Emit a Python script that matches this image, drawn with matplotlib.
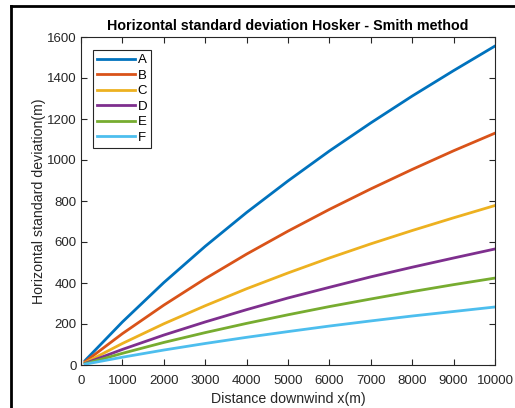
import matplotlib
matplotlib.use('Agg')
import matplotlib.pyplot as plt
from matplotlib.lines import Line2D

plt.rcParams['font.family'] = ['Liberation Sans', 'DejaVu Sans']

# distance downwind (m) and sigma_y (m)
x = [100, 1000, 2000, 3000, 4000, 5000, 6000, 7000, 8000, 9000, 10000]
sig_a = [22, 210, 402, 579, 744, 898, 1044, 1181, 1312, 1436, 1556]
sig_b = [16, 153, 292, 421, 541, 653, 759, 859, 954, 1045, 1131]
sig_c = [11, 105, 201, 289, 372, 449, 522, 591, 656, 718, 778]
sig_d = [8, 76, 146, 210, 270, 327, 379, 430, 477, 522, 566]
sig_e = [6, 57, 110, 158, 203, 245, 285, 322, 358, 392, 424]
sig_f = [4, 38, 73, 105, 135, 163, 190, 215, 239, 261, 283]
labels = ['A', 'B', 'C', 'D', 'E', 'F']
colors = ['#0072BD', '#D95319', '#EDB120', '#7E2F8E', '#77AC30', '#4DBEEE']

fig = plt.figure(figsize=(5.15, 4.08), dpi=100)
ax = fig.add_axes([81 / 515, 1 - 365 / 408, 414 / 515, 328 / 408])

for s, lab, c in zip([sig_a, sig_b, sig_c, sig_d, sig_e, sig_f], labels, colors):
    ax.plot(x, s, color=c, lw=2, label=lab)

ax.set_xlim(0, 10000)
ax.set_ylim(0, 1600)
ax.set_xticks(range(0, 10001, 1000))
ax.set_yticks(range(0, 1601, 200))
ax.tick_params(direction='in', top=True, right=True, labelsize=9.5,
               length=4, width=0.8, colors='#262626', labelcolor='#262626', pad=3)
ax.tick_params(axis='x', pad=7)
for sp in ax.spines.values():
    sp.set_color('#262626')
    sp.set_linewidth(0.8)

ax.set_title('Horizontal standard deviation Hosker - Smith method',
             fontsize=10.3, fontweight='bold', pad=5)
ax.set_xlabel('Distance downwind x(m)', fontsize=10.2, color='#262626', labelpad=4)
ax.set_ylabel('Horizontal standard deviation(m)', fontsize=10.2, color='#262626', labelpad=1)

leg = ax.legend(loc='upper left', bbox_to_anchor=(0.029, 0.96), fontsize=9.5,
                handlelength=2.9, handletextpad=0.2, labelspacing=0.25,
                borderpad=0.3, fancybox=False, framealpha=1, borderaxespad=0)
leg.get_frame().set_edgecolor('#262626')
leg.get_frame().set_linewidth(0.8)

# window frame edges visible in the screenshot
fig.add_artist(Line2D([11 / 515, 11 / 515], [0, 1 - 6 / 408], color='black', lw=2,
                      transform=fig.transFigure))
fig.add_artist(Line2D([11 / 515, 1], [1 - 6 / 408, 1 - 6 / 408], color='black', lw=2,
                      transform=fig.transFigure))

fig.savefig('out.png', dpi=100)
